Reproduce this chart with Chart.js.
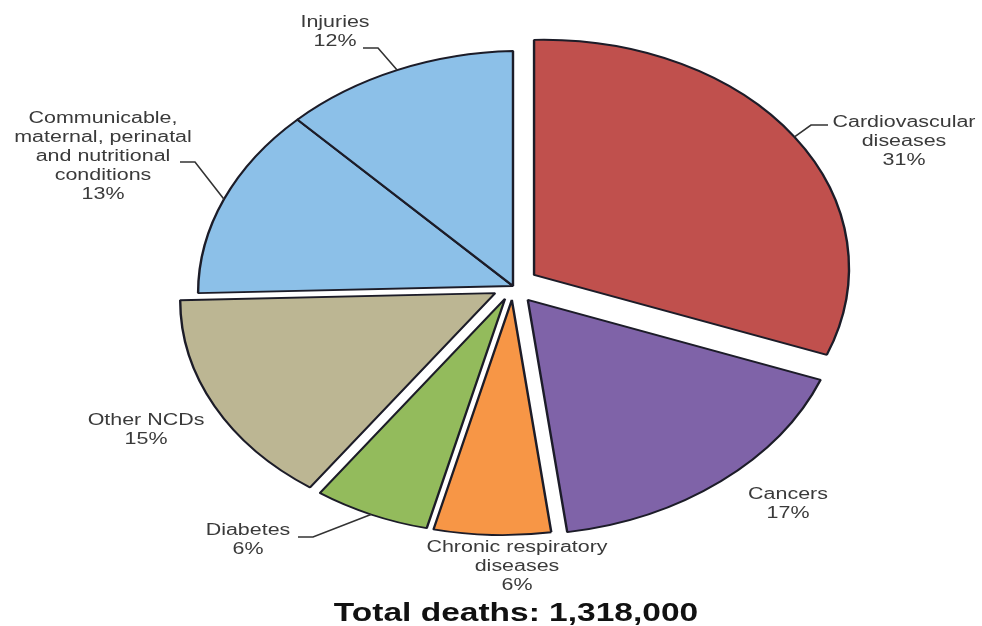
<!DOCTYPE html>
<html>
<head>
<meta charset="utf-8">
<script src="https://cdn.jsdelivr.net/npm/chart.js@4/dist/chart.umd.min.js"></script>
<style>
  html, body { margin: 0; padding: 0; background: #fff; }
  #wrap { width: 982px; height: 626px; }
</style>
</head>
<body>
<div id="wrap"><canvas id="pie" width="982" height="626"></canvas></div>
<script>
// --- data ---
const categories = [
  'Cardiovascular diseases',
  'Cancers',
  'Chronic respiratory diseases',
  'Diabetes',
  'Other NCDs',
  'Communicable, maternal, perinatal and nutritional conditions',
  'Injuries'
];
const shares = [31, 17, 6, 6, 15, 13, 12];
const labelNames = [
  ['Cardiovascular', 'diseases'],
  ['Cancers'],
  ['Chronic respiratory', 'diseases'],
  ['Diabetes'],
  ['Other NCDs'],
  ['Communicable,', 'maternal, perinatal', 'and nutritional', 'conditions'],
  ['Injuries']
];
const totalDeaths = '1,318,000';

// --- look ---
const sliceColors = ['#c0504d', '#7f63a8', '#f79646', '#93bb5c', '#bcb693', '#8cc0e8', '#8cc0e8'];
const explode = [19, 18, 14, 14, 15, 0, 0];   // pull-out of each slice, px
const STRETCH = 1.34;   // the original pie is an ellipse, wider than tall
const SHEAR = -0.03;    // ...and slightly skewed (left side sits lower)
const TEXT = '#3a3a3a';

// where each label sits (text centre, first line) and the elbow of its leader line
const labelLayout = [
  { x: 904, y: 123, elbow: [811, 125], end: [828, 125] },
  { x: 788, y: 495 },
  { x: 517, y: 548 },
  { x: 248, y: 531, elbow: [313, 537], end: [298, 537] },
  { x: 146, y: 421 },
  { x: 103, y: 119, elbow: [195, 162], end: [180, 162] },
  { x: 335, y: 23, elbow: [378, 48], end: [363, 48] }
];

// pie whose slices are pulled straight out (chart.js "offset" also grows small slices)
class ExplodedPie extends Chart.PieController {
  draw() {
    const ctx = this.chart.ctx;
    const arcs = this._cachedMeta.data;
    arcs.forEach((arc, i) => {
      const mid = (arc.startAngle + arc.endAngle) / 2;
      const d = explode[i] || 0;
      ctx.save();
      ctx.translate(Math.cos(mid) * d, Math.sin(mid) * d);
      arc.draw(ctx, this.chart.chartArea);
      ctx.restore();
    });
  }
}
ExplodedPie.id = 'explodedPie';
ExplodedPie.defaults = Chart.PieController.defaults;
ExplodedPie.overrides = Chart.PieController.overrides;
Chart.register(ExplodedPie);

function wideText(ctx, str, x, y) {
  ctx.save();
  ctx.translate(x, y);
  ctx.scale(STRETCH, 1);
  ctx.fillText(str, 0, 0);
  ctx.restore();
}

// same mapping as the ellipse plugin, for one point
function toScreen(cx, cy, x, y) {
  return [cx + STRETCH * (x - cx), cy + SHEAR * (x - cx) + (y - cy)];
}

// squash the circle into a skewed ellipse while the arcs are drawn
const ellipsePlugin = {
  id: 'ellipse',
  beforeDatasetsDraw(chart) {
    const arc = chart.getDatasetMeta(0).data[0];
    const ctx = chart.ctx;
    ctx.save();
    ctx.translate(arc.x, arc.y);
    ctx.transform(STRETCH, SHEAR, 0, 1, 0, 0);
    ctx.translate(-arc.x, -arc.y);
  },
  afterDatasetsDraw(chart) {
    chart.ctx.restore();
  }
};

const labelPlugin = {
  id: 'sliceLabels',
  afterDraw(chart) {
    const ctx = chart.ctx;
    const arcs = chart.getDatasetMeta(0).data;
    ctx.save();
    ctx.font = '16px "Liberation Sans", Arial, sans-serif';
    ctx.textAlign = 'center';
    ctx.textBaseline = 'middle';
    arcs.forEach((arc, i) => {
      const lay = labelLayout[i];
      const lines = labelNames[i].concat([shares[i] + '%']);
      ctx.fillStyle = TEXT;
      lines.forEach((ln, k) => wideText(ctx, ln, lay.x, lay.y + k * 19));
      if (lay.elbow) {
        const mid = (arc.startAngle + arc.endAngle) / 2;
        const r = arc.outerRadius + explode[i];
        const p = toScreen(arc.x, arc.y, arc.x + Math.cos(mid) * r, arc.y + Math.sin(mid) * r);
        ctx.strokeStyle = '#333';
        ctx.lineWidth = 1.6;
        ctx.beginPath();
        ctx.moveTo(p[0], p[1]);
        ctx.lineTo(lay.elbow[0], lay.elbow[1]);
        ctx.lineTo(lay.end[0], lay.end[1]);
        ctx.stroke();
      }
    });
    ctx.fillStyle = '#111';
    ctx.font = 'bold 25px "Liberation Sans", Arial, sans-serif';
    wideText(ctx, 'Total deaths: ' + totalDeaths, 516, 614);
    ctx.restore();
  }
};

new Chart(document.getElementById('pie'), {
  type: 'explodedPie',
  data: {
    labels: categories,
    datasets: [{
      data: shares,
      backgroundColor: sliceColors,
      borderColor: '#1c1c28',
      borderWidth: 1.8,
      hoverOffset: 0,
      radius: 235,
      clip: false
    }]
  },
  options: {
    responsive: false,
    animation: false,
    devicePixelRatio: 1,
    layout: { padding: { left: 44, right: 0, top: 0, bottom: 54 } },
    plugins: {
      legend: { display: false },
      tooltip: { enabled: false }
    },
    events: []
  },
  plugins: [ellipsePlugin, labelPlugin]
});
</script>
</body>
</html>
